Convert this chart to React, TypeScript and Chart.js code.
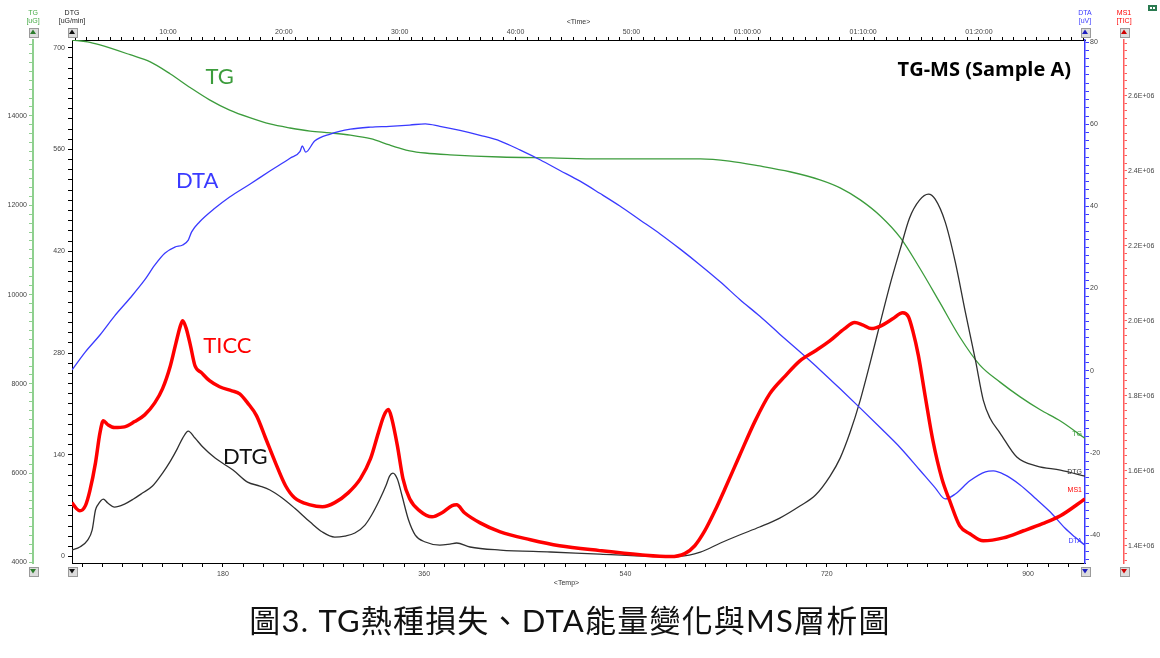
import React, { useEffect, useRef } from 'react';
import { Chart, registerables } from 'chart.js';

Chart.register(...registerables);

// ---------- data (temperature in °C on the bottom axis) ----------
const tgTemp = [45, 59, 70, 97, 115, 133, 151, 168, 186, 204, 222, 240, 258, 276, 294, 312, 329, 338, 347, 361, 383, 428, 473, 517, 607, 633, 660, 687, 714, 732, 750, 768, 786, 803, 821, 839, 857, 875, 893, 911, 929, 951];
const tgValues = [15700, 15660, 15590, 15370, 15210, 14940, 14630, 14360, 14130, 13960, 13820, 13730, 13660, 13620, 13570, 13490, 13350, 13280, 13220, 13170, 13130, 13080, 13060, 13040, 13040, 12990, 12880, 12750, 12570, 12390, 12120, 11760, 11270, 10600, 9830, 9050, 8420, 8040, 7710, 7420, 7170, 6780];

const dtaTemp = [45, 57, 70, 83, 97, 110, 119, 128, 137, 144, 149, 152, 159, 173, 186, 204, 222, 240, 249, 251, 254, 262, 276, 294, 312, 329, 347, 361, 374, 392, 410, 428, 446, 464, 481, 499, 517, 535, 553, 571, 589, 607, 625, 642, 660, 678, 696, 714, 732, 750, 768, 786, 803, 817, 826, 835, 848, 862, 869, 879, 893, 906, 920, 933, 942, 951];
const dtaValues = [0.2, 4.6, 8.7, 13.3, 17.7, 22.1, 25.7, 28.6, 30.1, 30.6, 31.8, 33.8, 36.2, 39.6, 42.3, 45.4, 48.6, 51.7, 53.4, 54.7, 53.2, 55.9, 57.6, 58.8, 59.3, 59.5, 59.8, 60.1, 59.5, 58.5, 57.3, 55.9, 53.7, 51.3, 48.8, 46.2, 43.2, 40.1, 36.7, 33.3, 29.6, 25.7, 21.6, 17.4, 13.3, 8.9, 4.6, 0.2, -4.4, -9.1, -13.9, -18.8, -24.1, -28.5, -31.2, -30.0, -26.8, -24.6, -24.4, -25.3, -27.8, -30.9, -34.4, -38.3, -40.5, -42.5];

const dtgTemp = [45, 52, 59, 63, 66, 68, 73, 77, 83, 92, 100, 108, 117, 126, 133, 139, 144, 149, 155, 162, 173, 189, 202, 213, 222, 233, 244, 258, 269, 280, 289, 298, 307, 313, 320, 326, 329, 332, 336, 340, 346, 352, 361, 374, 383, 389, 401, 428, 473, 517, 562, 589, 607, 625, 642, 660, 678, 696, 710, 723, 732, 741, 750, 759, 768, 777, 786, 794, 803, 811, 817, 826, 835, 844, 853, 860, 866, 875, 890, 908, 929, 951];
const dtgValues = [8.9, 13.1, 22.7, 36.4, 64.0, 70.8, 79.1, 73.6, 68.1, 72.2, 79.1, 87.3, 97.0, 114.8, 131.3, 147.8, 163.0, 172.6, 163.0, 150.6, 135.4, 119.0, 102.4, 97.0, 91.5, 80.5, 66.7, 47.4, 33.7, 26.8, 28.2, 32.3, 43.3, 57.1, 77.7, 98.3, 110.7, 114.8, 106.6, 84.6, 50.2, 29.6, 20.0, 15.8, 17.2, 18.6, 13.1, 8.9, 6.2, 3.4, 0.7, 0.7, 6.2, 18.6, 29.6, 40.6, 52.9, 69.5, 84.6, 110.7, 135.4, 171.2, 215.2, 267.4, 322.4, 376.1, 424.2, 465.5, 490.3, 498.5, 491.6, 460.0, 405.0, 336.2, 270.2, 215.2, 190.5, 169.9, 136.8, 124.4, 118.9, 110.7];

const msTemp = [45, 49, 52, 57, 61, 66, 70, 73, 77, 83, 92, 101, 110, 119, 126, 133, 138, 142, 144, 147, 151, 155, 161, 168, 177, 188, 195, 202, 210, 218, 227, 236, 244, 258, 269, 280, 292, 303, 312, 319, 324, 328, 331, 336, 341, 347, 356, 367, 376, 385, 389, 396, 410, 428, 455, 481, 517, 553, 580, 593, 602, 611, 620, 629, 642, 656, 669, 683, 696, 710, 723, 736, 745, 752, 760, 769, 779, 788, 793, 797, 802, 808, 815, 823, 830, 839, 848, 860, 878, 896, 913, 929, 951];
const msValues = [1.515e6, 1.499e6, 1.493e6, 1.507e6, 1.547e6, 1.621e6, 1.701e6, 1.733e6, 1.723e6, 1.715e6, 1.717e6, 1.731e6, 1.749e6, 1.781e6, 1.819e6, 1.880e6, 1.941e6, 1.987e6, 2.000e6, 1.981e6, 1.933e6, 1.880e6, 1.861e6, 1.840e6, 1.824e6, 1.813e6, 1.805e6, 1.781e6, 1.747e6, 1.688e6, 1.621e6, 1.560e6, 1.528e6, 1.509e6, 1.504e6, 1.515e6, 1.541e6, 1.579e6, 1.632e6, 1.701e6, 1.747e6, 1.763e6, 1.739e6, 1.667e6, 1.579e6, 1.525e6, 1.493e6, 1.477e6, 1.488e6, 1.507e6, 1.509e6, 1.488e6, 1.461e6, 1.437e6, 1.416e6, 1.400e6, 1.387e6, 1.376e6, 1.371e6, 1.379e6, 1.400e6, 1.440e6, 1.493e6, 1.552e6, 1.640e6, 1.733e6, 1.805e6, 1.853e6, 1.893e6, 1.920e6, 1.947e6, 1.979e6, 1.995e6, 1.989e6, 1.979e6, 1.987e6, 2.005e6, 2.021e6, 2.011e6, 1.973e6, 1.907e6, 1.800e6, 1.680e6, 1.579e6, 1.520e6, 1.453e6, 1.432e6, 1.413e6, 1.421e6, 1.440e6, 1.459e6, 1.480e6, 1.525e6];

// ---------- axis ranges and tick labels ----------
const tempRange = [45, 951];
const timeRange = [1.714, 89.15];
const tgRange = [3990, 15700];
const dtgRange = [-8.9, 710.6];
const dtaRange = [-46.8, 80.5];
const msRange = [1.354e6, 2.7485e6];

const tempTicks = [180, 360, 540, 720, 900];
const tempTickLabels = ['180', '360', '540', '720', '900'];
const timeTicks = [10, 20, 30, 40, 50, 60, 70, 80];
const timeTickLabels = ['10:00', '20:00', '30:00', '40:00', '50:00', '01:00:00', '01:10:00', '01:20:00'];
const tgTicks = [4000, 6000, 8000, 10000, 12000, 14000];
const tgTickLabels = ['4000', '6000', '8000', '10000', '12000', '14000'];
const dtgTicks = [0, 140, 280, 420, 560, 700];
const dtgTickLabels = ['0', '140', '280', '420', '560', '700'];
const dtaTicks = [-40, -20, 0, 20, 40, 60, 80];
const dtaTickLabels = ['-40', '-20', '0', '20', '40', '60', '80'];
const msTicks = [1.4e6, 1.6e6, 1.8e6, 2.0e6, 2.2e6, 2.4e6, 2.6e6];
const msTickLabels = ['1.4E+06', '1.6E+06', '1.8E+06', '2.0E+06', '2.2E+06', '2.4E+06', '2.6E+06'];

const captionText = '圖3. TG熱種損失、DTA能量變化與MS層析圖';
const chartTitle = 'TG-MS (Sample A)';

// ---------- styles ----------
const TG_COLOR = '#3c9c3c';
const TG_AXIS = '#8fd08f';
const DTG_COLOR = '#303030';
const DTA_COLOR = '#3a3aff';
const MS_COLOR = '#ff0000';
const MS_AXIS = '#ff5c5c';
const TICK_TEXT = '#444';
const SMALL_FONT = '7px "Liberation Sans", Arial, sans-serif';
const tickFont = { family: '"Liberation Sans", Arial, sans-serif', size: 7 };

function buildTicks(min: number, max: number, step: number) {
  const out: { value: number }[] = [];
  const start = Math.ceil(min / step - 1e-9);
  const end = Math.floor(max / step + 1e-9);
  for (let k = start; k <= end; k++) out.push({ value: +(k * step).toPrecision(12) });
  return out;
}

function labelFor(value: number, majors: number[], labels: string[]) {
  const i = majors.findIndex((m) => Math.abs(m - value) < 1e-6 * Math.max(1, Math.abs(m)));
  return i >= 0 ? labels[i] : '';
}

function pts(xs: number[], ys: number[]) {
  return xs.map((x, i) => ({ x, y: ys[i] }));
}

function axis(opts: any) {
  const { range, step, majors, labels, position, weight, color, borderWidth, size, tickLength, padding, horizontal } = opts;
  return {
    type: 'linear',
    position,
    weight,
    min: range[0],
    max: range[1],
    bounds: 'data',
    afterBuildTicks: (s: any) => {
      s.ticks = buildTicks(s.min, s.max, step);
    },
    afterFit: (s: any) => {
      if (horizontal) s.height = size;
      else s.width = size;
    },
    ticks: {
      autoSkip: false,
      maxRotation: 0,
      minRotation: 0,
      padding,
      color: TICK_TEXT,
      font: tickFont,
      callback: (v: number) => labelFor(v, majors, labels),
    },
    grid: {
      display: true,
      drawOnChartArea: false,
      drawTicks: true,
      tickLength,
      tickColor: color,
      tickWidth: 1,
    },
    border: { display: true, color, width: borderWidth },
  };
}

function drawButton(ctx: CanvasRenderingContext2D, cx: number, cy: number, up: boolean, color: string) {
  const s = 9;
  const x = Math.round(cx - s / 2) + 0.5;
  const y = Math.round(cy - s / 2) + 0.5;
  ctx.fillStyle = '#dcdcdc';
  ctx.fillRect(x, y, s, s);
  ctx.strokeStyle = '#9a9a9a';
  ctx.lineWidth = 1;
  ctx.strokeRect(x, y, s, s);
  ctx.fillStyle = color;
  ctx.beginPath();
  if (up) {
    ctx.moveTo(cx, cy - 2.5);
    ctx.lineTo(cx + 3, cy + 2);
    ctx.lineTo(cx - 3, cy + 2);
  } else {
    ctx.moveTo(cx, cy + 2.5);
    ctx.lineTo(cx + 3, cy - 2);
    ctx.lineTo(cx - 3, cy - 2);
  }
  ctx.closePath();
  ctx.fill();
}

const curveLabels = [
  { text: 'TG', temp: 177, value: 14870, axis: 'yTG', color: TG_COLOR },
  { text: 'DTA', temp: 157, value: 46.2, axis: 'yDTA', color: DTA_COLOR },
  { text: 'TICC', temp: 184, value: 1.933e6, axis: 'yMS', color: MS_COLOR },
  { text: 'DTG', temp: 200, value: 136.8, axis: 'yDTG', color: '#111' },
];

const endLabels = [
  { text: 'TG', axis: 'yTG', value: tgValues[tgValues.length - 1], dy: -4, color: TG_COLOR },
  { text: 'DTG', axis: 'yDTG', value: dtgValues[dtgValues.length - 1], dy: -4, color: '#333' },
  { text: 'MS1', axis: 'yMS', value: msValues[msValues.length - 1], dy: -9, color: MS_COLOR },
  { text: 'DTA', axis: 'yDTA', value: dtaValues[dtaValues.length - 1], dy: -4, color: DTA_COLOR },
];

const overlayPlugin = {
  id: 'overlay',
  afterDraw(chart: any) {
    const { ctx, chartArea: ca, scales } = chart;
    ctx.save();
    ctx.textAlign = 'center';
    ctx.textBaseline = 'middle';

    const heads = [
      { x: scales.yTG.right, t: ['TG', '[uG]'], c: '#44aa44', b: '#2d7d2d' },
      { x: scales.yDTG.right, t: ['DTG', '[uG/min]'], c: '#222', b: '#111' },
      { x: scales.yDTA.left, t: ['DTA', '[uV]'], c: DTA_COLOR, b: '#2020c0' },
      { x: scales.yMS.left, t: ['MS1', '[TIC]'], c: MS_COLOR, b: '#d00000' },
    ];
    heads.forEach((h) => {
      ctx.font = SMALL_FONT;
      ctx.fillStyle = h.c;
      ctx.fillText(h.t[0], h.x, ca.top - 27);
      ctx.fillText(h.t[1], h.x, ca.top - 19);
      drawButton(ctx, h.x, ca.top - 8, true, h.b);
      drawButton(ctx, h.x, ca.bottom + 8, false, h.b);
    });

    ctx.font = SMALL_FONT;
    ctx.fillStyle = '#333';
    ctx.fillText('<Time>', (ca.left + ca.right) / 2, ca.top - 18);
    ctx.fillText('<Temp>', (ca.left + ca.right) / 2 - 12, ca.bottom + 20);

    // small toolbar icon at top-right
    ctx.fillStyle = '#2a7a50';
    ctx.fillRect(1148, 5, 9, 6);
    ctx.fillStyle = '#ffffff';
    ctx.fillRect(1150, 7, 2, 2);
    ctx.fillRect(1153, 7, 2, 2);

    // large curve labels
    ctx.font = '22px Lato, "Open Sans", sans-serif';
    curveLabels.forEach((l) => {
      ctx.fillStyle = l.color;
      ctx.fillText(l.text, scales.x.getPixelForValue(l.temp), scales[l.axis].getPixelForValue(l.value));
    });

    // chart title
    ctx.font = 'bold 20px "Open Sans", Lato, sans-serif';
    ctx.fillStyle = '#000';
    ctx.textAlign = 'right';
    ctx.fillText(chartTitle, ca.right - 14, ca.top + 30);

    // end labels
    ctx.font = SMALL_FONT;
    endLabels.forEach((l) => {
      ctx.fillStyle = l.color;
      ctx.fillText(l.text, ca.right - 3, scales[l.axis].getPixelForValue(l.value) + l.dy);
    });
    ctx.restore();
  },
};

export default function App() {
  const ref = useRef<HTMLCanvasElement>(null);
  useEffect(() => {
    if (!ref.current) return;
    const chart = new Chart(ref.current, {
      type: 'line',
      data: {
        datasets: [
          { label: 'MS1', data: pts(msTemp, msValues), yAxisID: 'yMS', xAxisID: 'x', borderColor: MS_COLOR, borderWidth: 3.5, pointRadius: 0, cubicInterpolationMode: 'monotone', fill: false },
          { label: 'DTA', data: pts(dtaTemp, dtaValues), yAxisID: 'yDTA', xAxisID: 'x', borderColor: DTA_COLOR, borderWidth: 1.3, pointRadius: 0, cubicInterpolationMode: 'monotone', fill: false },
          { label: 'DTG', data: pts(dtgTemp, dtgValues), yAxisID: 'yDTG', xAxisID: 'x', borderColor: DTG_COLOR, borderWidth: 1.3, pointRadius: 0, cubicInterpolationMode: 'monotone', fill: false },
          { label: 'TG', data: pts(tgTemp, tgValues), yAxisID: 'yTG', xAxisID: 'x', borderColor: TG_COLOR, borderWidth: 1.3, pointRadius: 0, cubicInterpolationMode: 'monotone', fill: false },
        ],
      } as any,
      options: {
        responsive: false,
        animation: false,
        devicePixelRatio: 1,
        layout: { padding: { left: 0, right: 0, top: 26, bottom: 68 } },
        plugins: { legend: { display: false }, tooltip: { enabled: false }, title: { display: false } },
        events: [],
        scales: {
          x: axis({ range: tempRange, step: 18, majors: tempTicks, labels: tempTickLabels, position: 'bottom', weight: 0, color: '#000', borderWidth: 1, size: 27, tickLength: 4, padding: 3, horizontal: true }),
          x2: axis({ range: timeRange, step: 1, majors: timeTicks, labels: timeTickLabels, position: 'top', weight: 0, color: '#000', borderWidth: 1, size: 14, tickLength: 3, padding: 1, horizontal: true }),
          yDTG: axis({ range: dtgRange, step: 14, majors: dtgTicks, labels: dtgTickLabels, position: 'left', weight: 1, color: '#000', borderWidth: 1, size: 39, tickLength: 4, padding: 3 }),
          yTG: axis({ range: tgRange, step: 200, majors: tgTicks, labels: tgTickLabels, position: 'left', weight: 2, color: TG_AXIS, borderWidth: 2, size: 33, tickLength: 4, padding: 2 }),
          yDTA: axis({ range: dtaRange, step: 2, majors: dtaTicks, labels: dtaTickLabels, position: 'right', weight: 1, color: DTA_COLOR, borderWidth: 1.5, size: 39, tickLength: 4, padding: 1 }),
          yMS: axis({ range: msRange, step: 20000, majors: msTicks, labels: msTickLabels, position: 'right', weight: 2, color: MS_AXIS, borderWidth: 1.5, size: 36, tickLength: 3, padding: 1 }),
        } as any,
      },
      plugins: [overlayPlugin],
    } as any);
    return () => chart.destroy();
  }, []);

  return (
    <div style={{ position: 'absolute', left: 0, top: 0, width: 1160, height: 658, background: '#fff', overflow: 'hidden' }}>
      <canvas ref={ref} width={1160} height={658} style={{ position: 'absolute', left: 0, top: 0, width: 1160, height: 658 }} />
      <div
        style={{
          position: 'absolute',
          left: 0,
          top: 600,
          width: 1140,
          textAlign: 'center',
          fontFamily: 'Lato, "Noto Sans CJK TC", "Noto Sans CJK SC", sans-serif',
          fontSize: 31,
          lineHeight: '40px',
          letterSpacing: 1.2,
          color: '#111',
        }}
      >
        {captionText}
      </div>
    </div>
  );
}
